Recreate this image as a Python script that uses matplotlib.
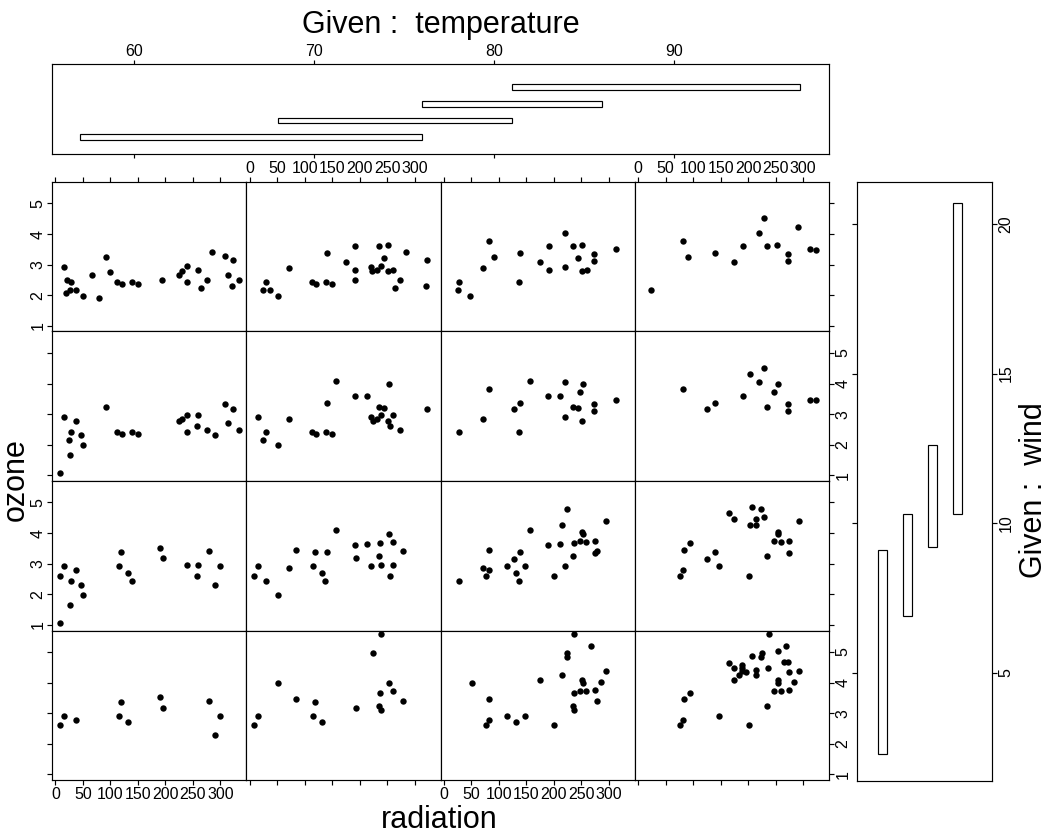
import matplotlib
matplotlib.use("Agg")
import matplotlib.pyplot as plt
from matplotlib.patches import Rectangle

plt.rcParams['font.family'] = ['Liberation Sans', 'DejaVu Sans']

# ---- conditioning intervals ----
temp_lo = [57, 68, 76, 81]
temp_hi = [76, 81, 86, 97]
wind_lo = [2.3, 6.9, 9.2, 10.3]
wind_hi = [9.1, 10.3, 12.6, 20.7]

temp_ticks = [60, 70, 80, 90]
wind_ticks = [5, 10, 15, 20]
rad_ticks = [0, 50, 100, 150, 200, 250, 300]
oz_ticks = [1, 2, 3, 4, 5]

# ---- radiation / cube-root ozone per panel (w = wind interval, t = temperature interval) ----
rad_w4_t1 = [15, 21, 28, 20, 26, 38, 50, 67, 79, 93, 100, 113, 121, 139, 150, 193, 225, 230, 239, 239,
             260, 265, 275, 285, 309, 314, 323, 321, 334]
oz_w4_t1 = [2.91, 2.50, 2.42, 2.07, 2.17, 2.17, 1.97, 2.68, 1.90, 3.24, 2.75, 2.42, 2.36, 2.42, 2.36, 2.49,
            2.68, 2.80, 2.95, 2.42, 2.82, 2.23, 2.49, 3.40, 3.30, 2.68, 3.17, 2.29, 2.49]
rad_w4_t2 = [25, 29, 38, 51, 72, 113, 121, 140, 139, 149, 176, 191, 191, 191, 220, 223, 231, 236, 238, 244,
             252, 252, 260, 264, 274, 284, 322, 320]
oz_w4_t2 = [2.16, 2.42, 2.16, 1.97, 2.88, 2.42, 2.36, 3.37, 2.42, 2.36, 3.08, 3.60, 2.82, 2.49, 2.91, 2.80,
            2.83, 3.60, 2.95, 3.21, 3.63, 2.78, 2.82, 2.23, 2.49, 3.40, 3.17, 2.29]
rad_w4_t3 = [25, 28, 48, 71, 82, 92, 137, 139, 174, 191, 191, 220, 220, 235, 243, 252, 252, 260, 273, 273, 313]
oz_w4_t3 = [2.16, 2.42, 1.97, 2.88, 3.79, 3.24, 2.42, 3.37, 3.08, 3.60, 2.82, 4.05, 2.91, 3.60, 3.21, 3.63,
            2.78, 2.82, 3.11, 3.34, 3.50]
rad_w4_t4 = [24, 82, 91, 139, 175, 191, 220, 229, 235, 252, 273, 273, 291, 313, 323]
oz_w4_t4 = [2.16, 3.79, 3.24, 3.37, 3.08, 3.60, 4.05, 4.54, 3.60, 3.63, 3.34, 3.11, 4.22, 3.50, 3.47]

rad_w3_t1 = [9, 15, 25, 26, 28, 38, 46, 50, 93, 113, 121, 139, 150, 224, 230, 239, 239, 257, 260, 275,
             291, 309, 314, 323, 334]
oz_w3_t1 = [1.09, 2.90, 2.15, 1.66, 2.41, 2.77, 2.31, 1.99, 3.25, 2.41, 2.34, 2.41, 2.34, 2.77, 2.83, 2.96,
            2.41, 2.60, 2.96, 2.47, 2.31, 3.32, 2.70, 3.16, 2.47]
rad_w3_t2 = [15, 25, 29, 51, 72, 113, 121, 140, 139, 149, 157, 191, 213, 220, 224, 231, 236, 238, 244, 252,
             254, 256, 260, 274, 322]
oz_w3_t2 = [2.90, 2.15, 2.41, 1.99, 2.86, 2.41, 2.34, 3.35, 2.41, 2.34, 4.10, 3.58, 3.61, 2.90, 2.77, 2.83,
            3.25, 2.96, 3.19, 2.77, 3.97, 2.60, 2.96, 2.47, 3.16]
rad_w3_t3 = [28, 71, 82, 127, 137, 139, 157, 190, 212, 220, 220, 235, 243, 247, 252, 253, 273, 273, 313]
oz_w3_t3 = [2.41, 2.86, 3.81, 3.16, 2.41, 3.35, 4.10, 3.58, 3.61, 4.04, 2.90, 3.25, 3.19, 3.74, 2.77, 3.97,
            3.32, 3.09, 3.48]
rad_w3_t4 = [82, 126, 139, 191, 203, 220, 229, 235, 247, 254, 273, 273, 313, 323]
oz_w3_t4 = [3.81, 3.16, 3.35, 3.58, 4.30, 4.04, 4.52, 3.25, 3.74, 3.97, 3.32, 3.09, 3.48, 3.45]

rad_w2_t1 = [8, 9, 15, 26, 28, 38, 46, 50, 116, 119, 132, 139, 191, 195, 239, 257, 260, 280, 291, 300]
oz_w2_t1 = [2.59, 1.07, 2.92, 1.65, 2.43, 2.79, 2.30, 1.98, 2.92, 3.37, 2.69, 2.43, 3.50, 3.18, 2.95, 2.59,
            2.95, 3.41, 2.30, 2.92]
rad_w2_t2 = [8, 15, 29, 51, 72, 84, 116, 119, 132, 138, 140, 157, 191, 194, 213, 220, 236, 237, 238, 254,
             256, 260, 260, 279]
oz_w2_t2 = [2.59, 2.92, 2.43, 1.98, 2.85, 3.44, 2.92, 3.37, 2.69, 2.43, 3.37, 4.09, 3.60, 3.18, 3.63, 2.92,
            3.24, 3.67, 2.95, 3.96, 2.59, 3.70, 2.95, 3.41]
rad_w2_t3 = [28, 71, 77, 82, 83, 115, 127, 131, 137, 139, 148, 157, 190, 200, 212, 215, 220, 223, 235, 236,
             247, 252, 253, 259, 274, 274, 278, 294]
oz_w2_t3 = [2.43, 2.85, 2.59, 2.79, 3.44, 2.92, 3.15, 2.69, 2.43, 3.37, 2.92, 4.09, 3.60, 2.59, 3.63, 4.25,
            2.92, 4.80, 3.24, 3.67, 3.73, 4.02, 3.96, 3.70, 3.73, 3.34, 3.41, 4.38]
rad_w2_t4 = [77, 81, 83, 95, 126, 139, 148, 166, 175, 201, 203, 207, 214, 215, 223, 229, 235, 247, 254, 254,
             260, 275, 274, 293]
oz_w2_t4 = [2.59, 2.79, 3.44, 3.67, 3.15, 3.37, 2.92, 4.64, 4.45, 2.59, 4.28, 4.84, 4.45, 4.25, 4.80, 4.54,
            3.24, 3.73, 4.02, 3.96, 3.70, 3.73, 3.34, 4.38]

rad_w1_t1 = [8, 15, 38, 116, 119, 132, 191, 195, 280, 291, 300]
oz_w1_t1 = [2.60, 2.92, 2.79, 2.92, 3.38, 2.70, 3.54, 3.18, 3.41, 2.30, 2.92]
rad_w1_t2 = [8, 15, 52, 84, 116, 119, 132, 194, 224, 238, 236, 237, 238, 254, 260, 279]
oz_w1_t2 = [2.60, 2.92, 3.97, 3.48, 2.92, 3.38, 2.70, 3.18, 4.95, 5.58, 3.25, 3.67, 3.12, 3.97, 3.71, 3.41]
rad_w1_t3 = [51, 77, 82, 83, 115, 131, 148, 174, 200, 215, 223, 223, 235, 236, 236, 236, 247, 252, 253, 259,
             268, 274, 278, 285, 294]
oz_w1_t3 = [3.97, 2.60, 2.79, 3.48, 2.92, 2.70, 2.92, 4.10, 2.60, 4.26, 4.95, 4.85, 3.25, 3.12, 3.67, 5.58,
            3.74, 4.10, 3.97, 3.71, 5.21, 3.77, 3.41, 4.03, 4.39]
rad_w1_t4 = [77, 81, 83, 95, 148, 166, 175, 175, 183, 188, 188, 188, 197, 201, 207, 214, 215, 223, 225, 235,
             237, 238, 247, 254, 254, 255, 260, 266, 269, 272, 275, 275, 284, 293]
oz_w1_t4 = [2.60, 2.79, 3.48, 3.67, 2.92, 4.65, 4.49, 4.10, 4.26, 4.49, 4.59, 4.39, 4.36, 2.60, 4.88, 4.42,
            4.26, 4.85, 4.98, 3.25, 4.46, 5.58, 3.74, 4.10, 3.97, 5.04, 3.71, 4.68, 5.21, 4.68, 4.33, 3.77,
            4.03, 4.39]

panels = {
    (4, 1): (rad_w4_t1, oz_w4_t1), (4, 2): (rad_w4_t2, oz_w4_t2),
    (4, 3): (rad_w4_t3, oz_w4_t3), (4, 4): (rad_w4_t4, oz_w4_t4),
    (3, 1): (rad_w3_t1, oz_w3_t1), (3, 2): (rad_w3_t2, oz_w3_t2),
    (3, 3): (rad_w3_t3, oz_w3_t3), (3, 4): (rad_w3_t4, oz_w3_t4),
    (2, 1): (rad_w2_t1, oz_w2_t1), (2, 2): (rad_w2_t2, oz_w2_t2),
    (2, 3): (rad_w2_t3, oz_w2_t3), (2, 4): (rad_w2_t4, oz_w2_t4),
    (1, 1): (rad_w1_t1, oz_w1_t1), (1, 2): (rad_w1_t2, oz_w1_t2),
    (1, 3): (rad_w1_t3, oz_w1_t3), (1, 4): (rad_w1_t4, oz_w1_t4),
}

RAD_LIM = (-6.08, 347.08)
OZ_LIM = (0.82, 5.70)
TEMP_LIM = (55.43, 98.6)
WIND_LIM = (1.40, 21.40)

W, H = 1053, 835
fig = plt.figure(figsize=(W / 100, H / 100), dpi=100)


def add_box(x0, y0, x1, y1):
    """Axes from a box given in figure pixels (origin at top-left)."""
    return fig.add_axes([x0 / W, 1 - y1 / H, (x1 - x0) / W, (y1 - y0) / H])


LW = 0.85
TICK_FS = 11.5
TICK_LEN = 3.6
LABEL_FS = 22

# ---- scatter panels ----
GL, GR, GT, GB = 52, 829, 182, 780
pw = (GR - GL) / 4
ph = (GB - GT) / 4
for r in range(4):
    w = 4 - r
    for c in range(4):
        t = c + 1
        ax = add_box(GL + c * pw, GT + r * ph, GL + (c + 1) * pw, GT + (r + 1) * ph)
        xs, ys = panels[(w, t)]
        ax.plot(xs, ys, 'o', color='black', ms=4.6, mew=0, clip_on=False)
        ax.set_xlim(RAD_LIM)
        ax.set_ylim(OZ_LIM)
        for s in ax.spines.values():
            s.set_linewidth(LW)

        if r in (0, 3):
            ax.set_xticks(rad_ticks)
            ax.tick_params(axis='x', direction='out', length=TICK_LEN, width=LW,
                           labelsize=TICK_FS,
                           bottom=(r == 3), top=(r == 0),
                           labelbottom=(r == 3 and c in (0, 2)),
                           labeltop=(r == 0 and c in (1, 3)),
                           pad=1.2 if r == 3 else 0.5)
        else:
            ax.set_xticks([])

        if c in (0, 3):
            ax.set_yticks(oz_ticks)
            ax.tick_params(axis='y', direction='out', length=TICK_LEN, width=LW,
                           labelsize=TICK_FS, labelrotation=90,
                           left=(c == 0), right=(c == 3),
                           labelleft=(c == 0 and r in (0, 2)),
                           labelright=(c == 3 and r in (1, 3)),
                           pad=1.0)
            for lab in ax.get_yticklabels():
                lab.set_va('center')
        else:
            ax.set_yticks([])

# ---- temperature intervals ----
axt = add_box(52, 64, 829, 153.5)
axt.set_xlim(TEMP_LIM)
axt.set_ylim(0, 5.4)
for i, (lo, hi) in enumerate(zip(temp_lo, temp_hi)):
    axt.add_patch(Rectangle((lo, i + 1 - 0.17), hi - lo, 0.34, facecolor='white',
                            edgecolor='black', linewidth=LW))
axt.set_xticks(temp_ticks)
axt.set_yticks([])
axt.tick_params(axis='x', direction='out', length=3.0, width=LW, labelsize=TICK_FS,
                top=True, bottom=True, labeltop=True, labelbottom=False, pad=0.8)
for s in axt.spines.values():
    s.set_linewidth(LW)

# ---- wind intervals ----
axw = add_box(857, 182, 992, 780.7)
axw.set_ylim(WIND_LIM)
axw.set_xlim(0, 5.4)
for i, (lo, hi) in enumerate(zip(wind_lo, wind_hi)):
    axw.add_patch(Rectangle((i + 1 - 0.18, lo), 0.36, hi - lo, facecolor='white',
                            edgecolor='black', linewidth=LW))
axw.set_yticks(wind_ticks)
axw.set_xticks([])
axw.tick_params(axis='y', direction='out', length=3.6, width=LW, labelsize=TICK_FS,
                labelrotation=90, left=True, right=True, labelleft=False, labelright=True,
                pad=1.0)
for lab in axw.get_yticklabels():
    lab.set_va('center')
for s in axw.spines.values():
    s.set_linewidth(LW)

# ---- titles ----
fig.text(440.5 / W, 1 - 25 / H, "Given :  temperature", ha='center', va='center', fontsize=LABEL_FS)
fig.text(16 / W, 1 - 480 / H, "ozone", ha='center', va='center', rotation=90, fontsize=LABEL_FS)
fig.text(439 / W, 1 - 828 / H, "radiation", ha='center', va='baseline', fontsize=LABEL_FS)
fig.text(1034 / W, 1 - 490 / H, "Given :  wind", ha='center', va='center', rotation=90,
         fontsize=LABEL_FS)

fig.savefig("out.png", dpi=100, facecolor='white')
